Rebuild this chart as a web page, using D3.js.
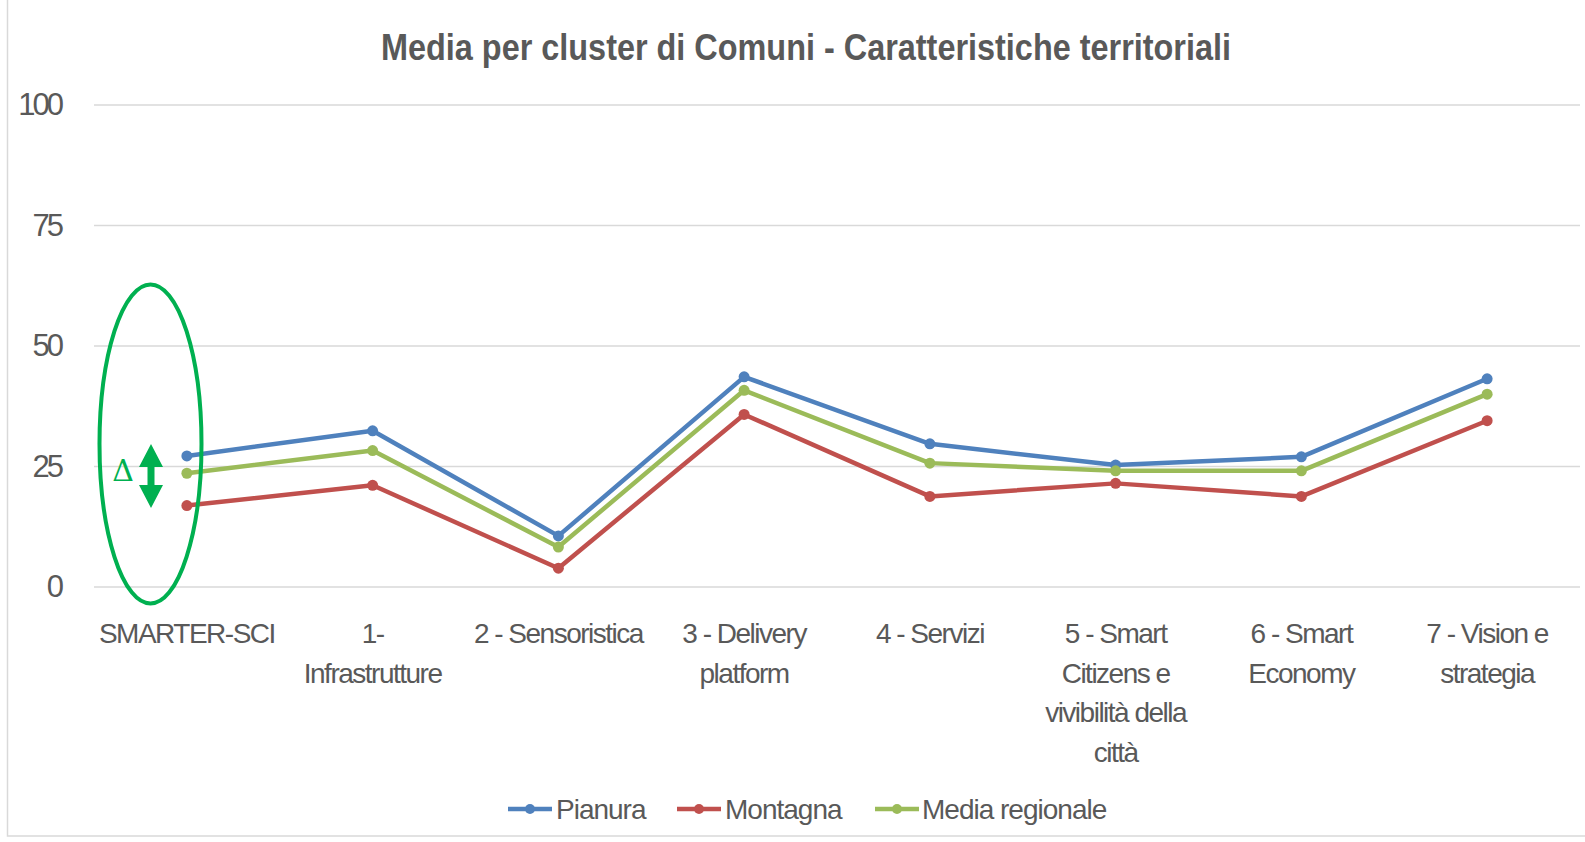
<!DOCTYPE html>
<html lang="it">
<head>
<meta charset="UTF-8">
<title>Media per cluster di Comuni - Caratteristiche territoriali</title>
<style>
  body { margin: 0; background: #fff; }
  svg { display: block; font-family: "Liberation Sans", Arial, sans-serif; }
</style>
</head>
<body>
<div id="chart"></div>
<script src="https://d3js.org/d3.v7.min.js"></script>
<script>
const categories = ["SMARTER-SCI", "1- Infrastrutture", "2 - Sensoristica", "3 - Delivery platform",
  "4 - Servizi", "5 - Smart Citizens e vivibilità della città", "6 - Smart Economy", "7 - Vision e strategia"];
const categoryLines = [
  ["SMARTER-SCI"],
  ["1-", "Infrastrutture"],
  ["2 - Sensoristica"],
  ["3 - Delivery", "platform"],
  ["4 - Servizi"],
  ["5 - Smart", "Citizens e", "vivibilità della", "città"],
  ["6 - Smart", "Economy"],
  ["7 - Vision e", "strategia"]
];
const pianura = [27.2, 32.4, 10.6, 43.6, 29.7, 25.3, 27.0, 43.2];
const montagna = [16.9, 21.1, 3.9, 35.8, 18.8, 21.5, 18.8, 34.5];
const mediaRegionale = [23.6, 28.3, 8.3, 40.8, 25.7, 24.1, 24.1, 40.0];
const yTicks = [0, 25, 50, 75, 100];

const series = [
  { name: "Pianura", values: pianura, color: "#4F81BD" },
  { name: "Montagna", values: montagna, color: "#C0504D" },
  { name: "Media regionale", values: mediaRegionale, color: "#9BBB59" }
];

const width = 1585, height = 842;
const margin = { top: 105, right: 5, bottom: 255, left: 94 };

const svg = d3.select("#chart").append("svg")
  .attr("width", width)
  .attr("height", height);

// chart frame
svg.append("rect")
  .attr("x", 7.5).attr("y", -2)
  .attr("width", width + 5).attr("height", 838)
  .attr("fill", "none").attr("stroke", "#d9d9d9").attr("stroke-width", 1.5);

const x = d3.scaleBand()
  .domain(d3.range(categories.length))
  .range([margin.left, width - margin.right]);

const y = d3.scaleLinear()
  .domain([0, 100])
  .range([height - margin.bottom, margin.top]);

// title
svg.append("text")
  .attr("x", 806).attr("y", 60)
  .attr("text-anchor", "middle")
  .attr("font-size", 36).attr("font-weight", "bold")
  .attr("fill", "#595959")
  .attr("textLength", 850).attr("lengthAdjust", "spacingAndGlyphs")
  .text("Media per cluster di Comuni - Caratteristiche territoriali");

// gridlines
svg.append("g")
  .selectAll("line")
  .data(yTicks)
  .join("line")
  .attr("x1", margin.left).attr("x2", width - margin.right)
  .attr("y1", d => y(d)).attr("y2", d => y(d))
  .attr("stroke", "#d9d9d9").attr("stroke-width", 1.5);

// y axis labels
const yAxis = svg.append("g")
  .attr("transform", `translate(${margin.left},0)`)
  .call(d3.axisLeft(y).tickValues(yTicks).tickSize(0).tickPadding(33));
yAxis.select(".domain").remove();
yAxis.selectAll("text")
  .attr("font-size", 31).attr("fill", "#595959")
  .attr("font-family", "Liberation Sans, Arial, sans-serif")
  .attr("letter-spacing", "-3px");

// x axis labels
const xAxis = svg.append("g")
  .attr("transform", `translate(0,${y(0)})`)
  .call(d3.axisBottom(x).tickSize(0).tickFormat(""));
xAxis.select(".domain").remove();
xAxis.selectAll(".tick text").remove();
xAxis.selectAll(".tick")
  .append("text")
  .attr("text-anchor", "middle")
  .attr("font-size", 28).attr("fill", "#595959")
  .attr("font-family", "Liberation Sans, Arial, sans-serif")
  .attr("letter-spacing", "-1.5px")
  .selectAll("tspan")
  .data(i => categoryLines[i])
  .join("tspan")
  .attr("x", 0)
  .attr("y", (d, j) => 56 + j * 39.5)
  .text(d => d);

// lines
const line = d3.line()
  .x((d, i) => x(i) + x.bandwidth() / 2)
  .y(d => y(d));

const g = svg.append("g");
series.forEach(s => {
  g.append("path")
    .attr("d", line(s.values))
    .attr("fill", "none")
    .attr("stroke", s.color)
    .attr("stroke-width", 4.5)
    .attr("stroke-linejoin", "round");
  g.selectAll(null)
    .data(s.values)
    .join("circle")
    .attr("cx", (d, i) => x(i) + x.bandwidth() / 2)
    .attr("cy", d => y(d))
    .attr("r", 5.5)
    .attr("fill", s.color);
});

// annotation: ellipse, delta and double arrow
const ann = svg.append("g");
ann.append("ellipse")
  .attr("cx", 150.5).attr("cy", 444)
  .attr("rx", 51).attr("ry", 159.5)
  .attr("fill", "none").attr("stroke", "#00B050").attr("stroke-width", 4);
ann.append("text")
  .attr("x", 123).attr("y", 481)
  .attr("text-anchor", "middle")
  .attr("font-size", 30).attr("fill", "#00B050")
  .attr("font-family", "DejaVu Serif, serif")
  .text("Δ");
const ax = 151, aTop = 444, aBot = 508, hw = 12, hh = 23, sw = 3.5;
ann.append("path")
  .attr("d", `M${ax},${aTop} L${ax + hw},${aTop + hh} L${ax + sw},${aTop + hh} L${ax + sw},${aBot - hh}
    L${ax + hw},${aBot - hh} L${ax},${aBot} L${ax - hw},${aBot - hh} L${ax - sw},${aBot - hh}
    L${ax - sw},${aTop + hh} L${ax - hw},${aTop + hh} Z`)
  .attr("fill", "#00B050");

// legend
const legendItems = [
  { x0: 508, tx: 556 },
  { x0: 677, tx: 725 },
  { x0: 875, tx: 922 }
];
const legend = svg.append("g").attr("transform", "translate(0,809)");
series.forEach((s, i) => {
  const it = legendItems[i];
  legend.append("line")
    .attr("x1", it.x0).attr("x2", it.x0 + 44)
    .attr("stroke", s.color).attr("stroke-width", 4.5);
  legend.append("circle")
    .attr("cx", it.x0 + 22).attr("r", 5).attr("fill", s.color);
  legend.append("text")
    .attr("x", it.tx).attr("y", 10)
    .attr("font-size", 28).attr("fill", "#595959")
    .attr("letter-spacing", "-1px")
    .text(s.name);
});
</script>
</body>
</html>
